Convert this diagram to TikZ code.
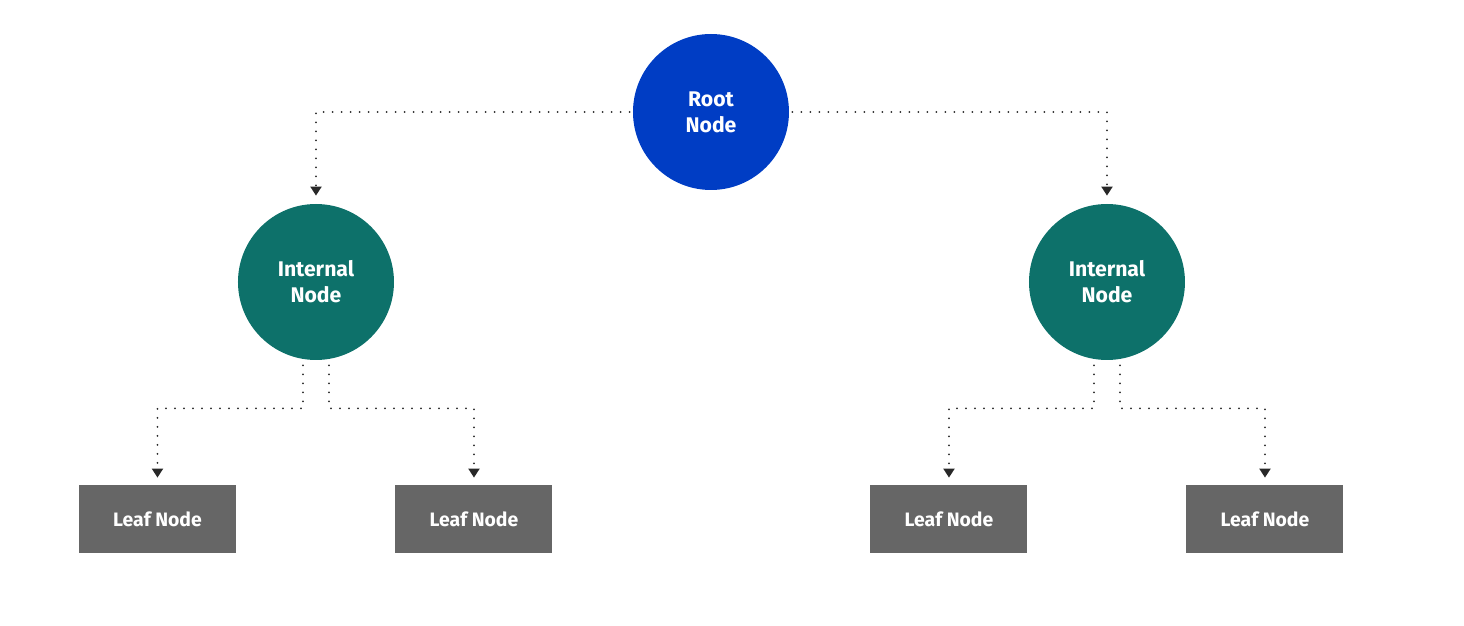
\documentclass[tikz,border=0pt]{standalone}
\usepackage{fontspec}
\setmainfont{Fira Sans}
\usetikzlibrary{positioning,arrows.meta}
\definecolor{treeBlue}{RGB}{0,61,196}
\definecolor{treeTeal}{RGB}{13,113,106}
\definecolor{leafGray}{RGB}{102,102,102}
\definecolor{linkGray}{RGB}{40,40,40}

\begin{document}
\begin{tikzpicture}[
    on grid,
    node distance=85pt and 197.5pt,
    root node/.style={circle, fill=treeBlue, minimum size=78pt, inner sep=0pt, text=white, align=center, font=\fontsize{10.6}{13}\selectfont\bfseries},
    inner node/.style={root node, fill=treeTeal},
    leaf node/.style={rectangle, fill=leafGray, minimum width=78.5pt, minimum height=34pt, text=white, font=\fontsize{9.7}{11}\selectfont\bfseries},
    link/.style={draw=linkGray, line width=1pt, line cap=round, dash pattern=on 0pt off 4.5pt, -{Triangle[length=4.5pt,width=5.5pt,fill=linkGray,sharp]}}
]
  \useasboundingbox (-355.5pt,-257pt) rectangle (376.5pt,56pt);

  \node[root node] (root) {Root\\Node};
  \node[inner node] (il) [below left=of root] {Internal\\Node};
  \node[inner node] (ir) [below right=85pt and 198pt of root] {Internal\\Node};

  \node[leaf node] (ll1) [below left=118.5pt and 79.25pt of il] {Leaf Node};
  \node[leaf node] (ll2) [below right=118.5pt and 79pt of il] {Leaf Node};
  \node[leaf node] (rl1) [below left=118.5pt and 79pt of ir] {Leaf Node};
  \node[leaf node] (rl2) [below right=118.5pt and 79pt of ir] {Leaf Node};

  % root to the two internal nodes
  \draw[link, shorten >=4pt] ([xshift=-1.5pt]root.west) -| (il.north);
  \draw[link, shorten >=4pt] ([xshift=1.5pt]root.east) -| (ir.north);

  % internal nodes to leaves
  \draw[link, shorten >=3.5pt] ([xshift=-6.5pt,yshift=-2.5pt]il.south) -- ++(0,-21.5pt) -| (ll1.north);
  \draw[link, shorten >=3.5pt] ([xshift=6.5pt,yshift=-2.5pt]il.south) -- ++(0,-21.5pt) -| (ll2.north);
  \draw[link, shorten >=3.5pt] ([xshift=-6.5pt,yshift=-2.5pt]ir.south) -- ++(0,-21.5pt) -| (rl1.north);
  \draw[link, shorten >=3.5pt] ([xshift=6.5pt,yshift=-2.5pt]ir.south) -- ++(0,-21.5pt) -| (rl2.north);
\end{tikzpicture}
\end{document}
